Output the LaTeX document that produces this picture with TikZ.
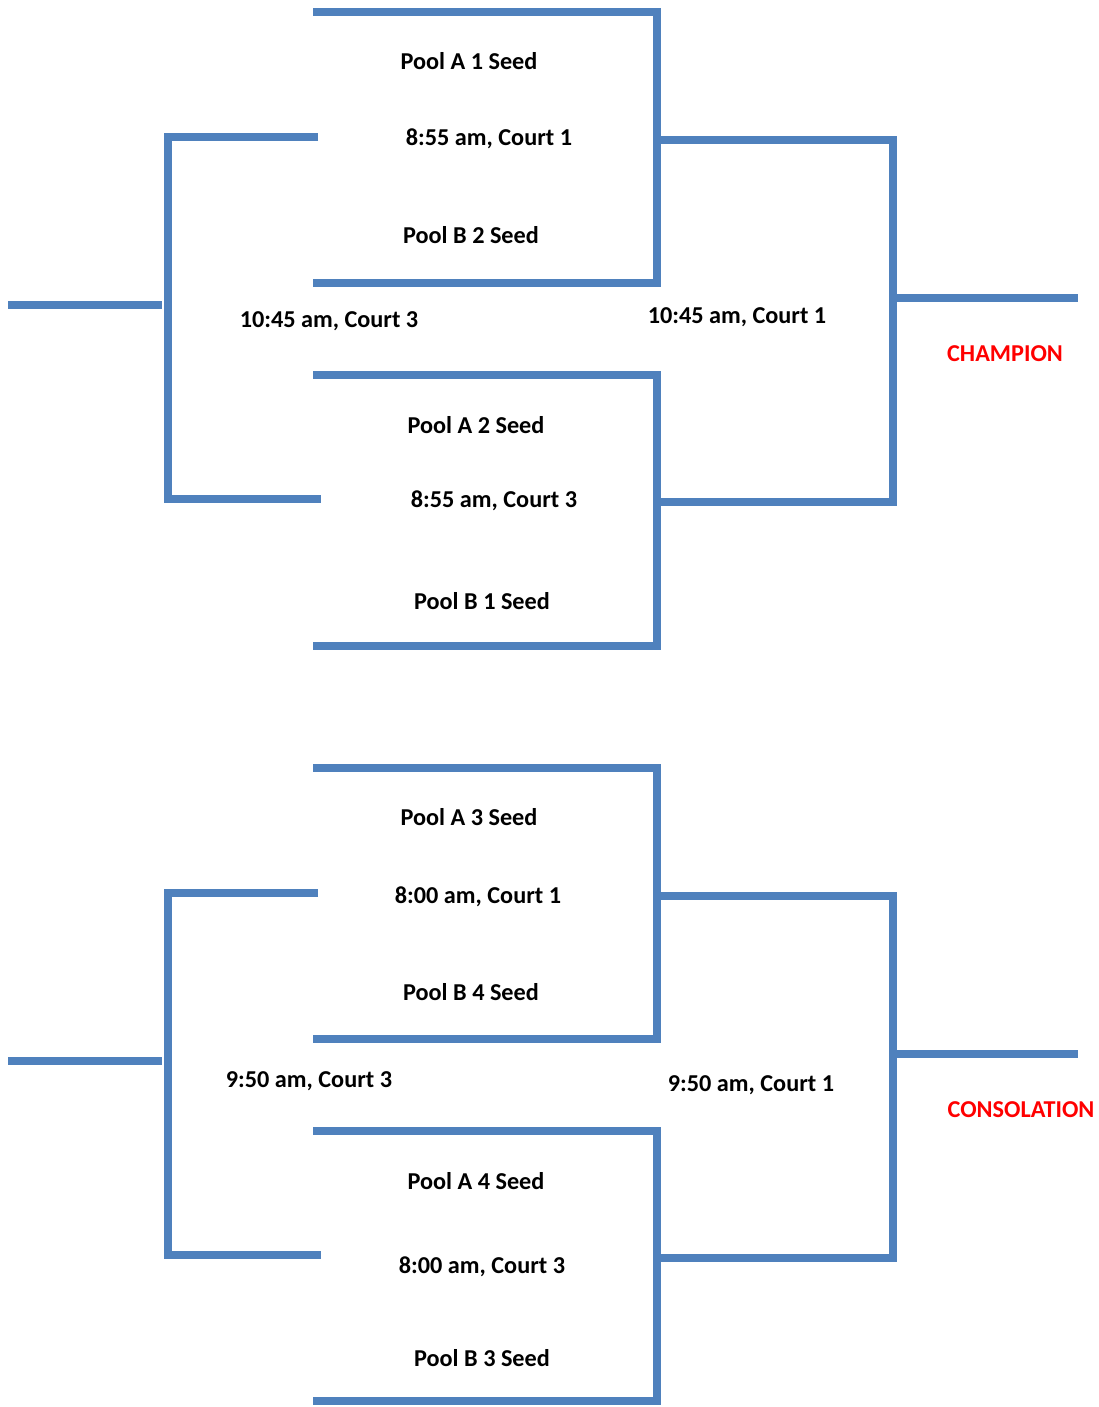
\documentclass[tikz,border=0pt]{standalone}
\usepackage{fontspec}
\setmainfont{Carlito}
\usetikzlibrary{positioning}
\definecolor{bracketblue}{RGB}{79,129,189}
\definecolor{titlered}{RGB}{255,0,0}

\begin{document}
\begin{tikzpicture}[x=0.02cm, y=-0.02cm,
  bar/.style={line width=0.16cm, draw=bracketblue},
  lbl/.style={font=\fontsize{13.8}{16}\selectfont\bfseries, inner sep=0pt},
  ttl/.style={lbl, text=titlered}
]
\useasboundingbox (0,0) rectangle (1099,1407);
% champion bracket
\draw[bar] (313,12) -- (657,12) -- (657,283) -- (313,283);
\draw[bar] (313,375) -- (657,375) -- (657,646) -- (313,646);
\coordinate (semiA) at (657,140);
\coordinate (semiB) at (657,502);
\coordinate (final) at (893,298);
\coordinate (champ) at (1078,298);
\draw[bar] (semiA) -- (semiA -| final) -- (semiB -| final) -- (semiB);
\draw[bar] (final) -- (champ);
\draw[bar] (318,137) -- (168,137) -- (168,499) -- (321,499);
\draw[bar] (8,305) -- (162,305);
\node[lbl] (a1) at (469,61) {Pool A 1 Seed};
\node[lbl] (g1) at (489,139) {8:55 am, Court 1};
\node[lbl] (b2) at (471,235) {Pool B 2 Seed};
\node[lbl] (l1) at (329,321) {10:45 am, Court 3};
\node[lbl] (f1) at (737,317) {10:45 am, Court 1};
\node[ttl] (champion) at (1005,354) {CHAMPION};
\node[lbl] (a2) at (476,425) {Pool A 2 Seed};
\node[lbl] (g2) at (494,501) {8:55 am, Court 3};
\node[lbl] (b1) at (482,601) {Pool B 1 Seed};
% consolation bracket
\draw[bar] (313,768) -- (657,768) -- (657,1039) -- (313,1039);
\draw[bar] (313,1131) -- (657,1131) -- (657,1401) -- (313,1401);
\coordinate (semiC) at (657,896);
\coordinate (semiD) at (657,1258);
\coordinate (cfinal) at (893,1054);
\coordinate (cons) at (1078,1054);
\draw[bar] (semiC) -- (semiC -| cfinal) -- (semiD -| cfinal) -- (semiD);
\draw[bar] (cfinal) -- (cons);
\draw[bar] (318,893) -- (168,893) -- (168,1255) -- (321,1255);
\draw[bar] (8,1061) -- (162,1061);
\node[lbl] (a3) at (469,817) {Pool A 3 Seed};
\node[lbl] (g3) at (478,897) {8:00 am, Court 1};
\node[lbl] (b4) at (471,992) {Pool B 4 Seed};
\node[lbl] (l2) at (309,1081) {9:50 am, Court 3};
\node[lbl] (f2) at (751,1085) {9:50 am, Court 1};
\node[ttl] (consolation) at (1021,1110) {CONSOLATION};
\node[lbl] (a4) at (476,1181) {Pool A 4 Seed};
\node[lbl] (g4) at (482,1267) {8:00 am, Court 3};
\node[lbl] (b3) at (482,1358) {Pool B 3 Seed};
\end{tikzpicture}
\end{document}
